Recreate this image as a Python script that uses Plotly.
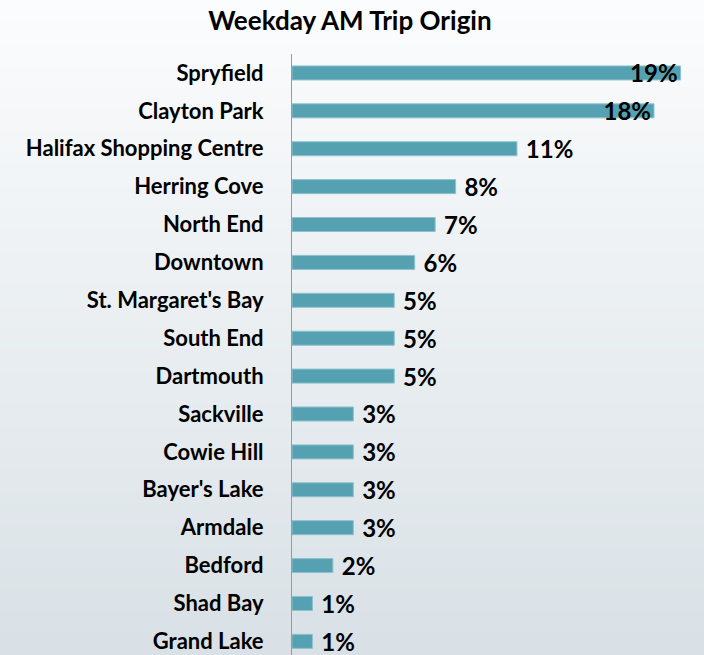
import plotly.graph_objects as go

categories = ["Spryfield", "Clayton Park", "Halifax Shopping Centre", "Herring Cove",
              "North End", "Downtown", "St. Margaret's Bay", "South End", "Dartmouth",
              "Sackville", "Cowie Hill", "Bayer's Lake", "Armdale", "Bedford",
              "Shad Bay", "Grand Lake"]
values = [19.0, 17.7, 11.0, 8.0, 7.0, 6.0, 5.0, 5.0, 5.0, 3.0, 3.0, 3.0, 3.0, 2.0, 1.0, 1.0]
labels = [f"{round(v)}%" for v in values]

W, H = 704, 655
ml, mr, mt, mb = 292, 4, 54, 0
font = "Lato, 'Open Sans', sans-serif"

positions = ["inside" if v > 17 else "outside" for v in values]
ttemplates = ["%{text}" if v > 17 else " %{text}" for v in values]

vfont = dict(family=font, size=24, color="#000000", weight="bold")

fig = go.Figure(go.Bar(
    y=categories, x=values, orientation="h",
    text=labels, texttemplate=ttemplates, textposition=positions,
    insidetextanchor="end", constraintext="none", cliponaxis=False,
    marker=dict(color="#55a1b1", line=dict(color="#8cc3cf", width=1)),
    width=0.37,
    textfont=vfont, insidetextfont=vfont, outsidetextfont=vfont,
    hoverinfo="skip",
))

# background gradient (white at top to light blue-gray at bottom)
pw = W - ml - mr
ph = H - mt - mb
x0p, x1p = -ml / pw, 1 + mr / pw
y0p, y1p = -mb / ph, 1 + mt / ph
n = 60
c0 = (251, 252, 253)
c1 = (217, 225, 230)
shapes = []
for i in range(n):
    t = i / (n - 1)
    c = tuple(round(c0[k] + (c1[k] - c0[k]) * t) for k in range(3))
    ya = y1p - (y1p - y0p) * i / n
    yb = y1p - (y1p - y0p) * (i + 1) / n
    shapes.append(dict(type="rect", xref="paper", yref="paper", x0=x0p, x1=x1p,
                       y0=yb - 0.002, y1=ya, line=dict(width=0),
                       fillcolor=f"rgb{c}", layer="below"))

fig.update_layout(
    width=W, height=H,
    margin=dict(l=ml, r=mr, t=mt, b=mb, pad=0),
    paper_bgcolor="rgba(0,0,0,0)", plot_bgcolor="rgba(0,0,0,0)",
    shapes=shapes,
    showlegend=False,
    title=dict(text="<b>Weekday AM Trip Origin</b>", x=0.497, xref="container", xanchor="center",
               y=1 - 21 / H, yref="container", yanchor="middle",
               font=dict(family=font, size=26, color="#000000")),
    xaxis=dict(range=[0, 19.95], visible=False, fixedrange=True),
    yaxis=dict(type="category", categoryorder="array", categoryarray=categories,
               range=[15.36, -0.5], showgrid=False, zeroline=False, fixedrange=True,
               showline=True, linecolor="#9a9a9a", linewidth=1,
               ticks="", ticklabelstandoff=23,
               tickfont=dict(family=font, size=22, color="#000000", weight="bold")),
)

fig.write_html("out.html", config={"displayModeBar": False},
               post_script="document.body.style.margin='0';document.body.style.overflow='hidden';")
